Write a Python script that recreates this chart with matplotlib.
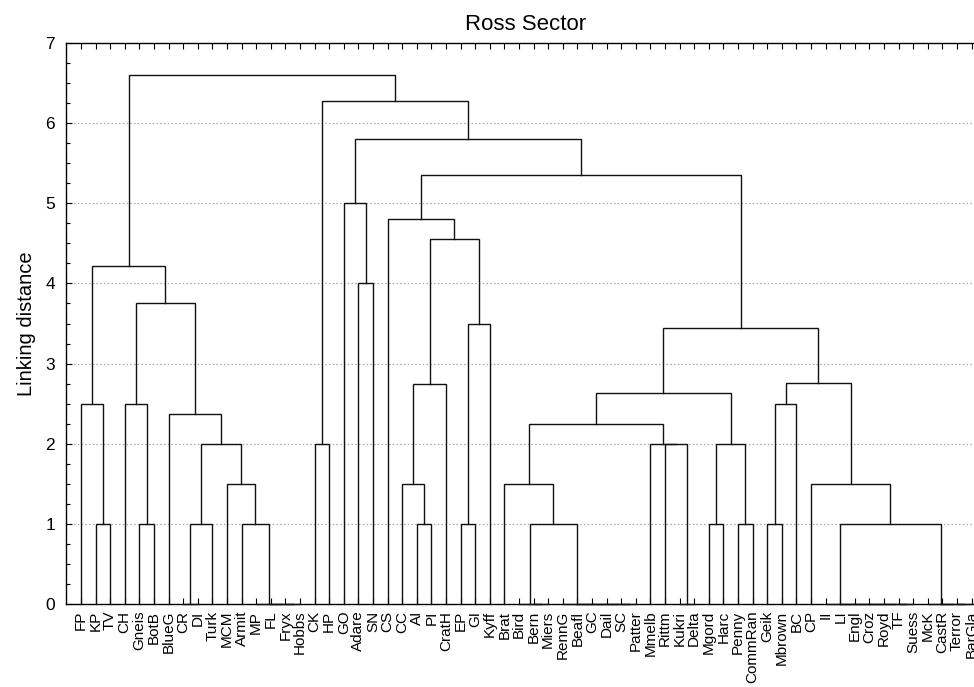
import matplotlib
matplotlib.use("Agg")
import matplotlib.pyplot as plt
from matplotlib.ticker import MultipleLocator, FixedLocator

plt.rcParams['font.family'] = ['Liberation Sans', 'DejaVu Sans']

labels = ["FP", "KP", "TV", "CH", "Gneis", "BotB", "BlueG", "CR", "DI", "Turk",
          "MCM", "Armit", "MP", "FL", "Fryx", "Hobbs", "CK", "HP", "GO", "Adare",
          "SN", "CS", "CC", "AI", "PI", "CratH", "EP", "GI", "Kyff", "Brat",
          "Bird", "Bern", "Miers", "RennG", "Beafl", "GC", "Dail", "SC", "Patter", "Mmelb",
          "Rittm", "Kukri", "Delta", "Mgord", "Harc", "Penny", "CommRan", "Geik", "Mbrown", "BC",
          "CP", "II", "LI", "Engl", "Croz", "Royd", "TF", "Suess", "McK", "CastR",
          "Terror", "BarGla"]

# merges: (left child, right child, linking distance); children are leaf names or "m<k>"
merges = [
    ("KP", "TV", 1.0),        # m1
    ("FP", "m1", 2.5),        # m2
    ("Gneis", "BotB", 1.0),   # m3
    ("CH", "m3", 2.5),        # m4
    ("CR", "DI", 0.0),        # m5
    ("m5", "Turk", 1.0),      # m6
    ("Fryx", "Hobbs", 0.0),   # m7
    ("FL", "m7", 0.0),        # m8
    ("MP", "m8", 0.0),        # m9
    ("Armit", "m9", 1.0),     # m10
    ("MCM", "m10", 1.5),      # m11
    ("m6", "m11", 2.0),       # m12
    ("BlueG", "m12", 2.37),   # m13
    ("m4", "m13", 3.75),      # m14
    ("m2", "m14", 4.22),      # m15
    ("CK", "HP", 2.0),        # m16
    ("Adare", "SN", 4.0),     # m17
    ("GO", "m17", 5.0),       # m18
    ("AI", "PI", 1.0),        # m19
    ("CC", "m19", 1.5),       # m20
    ("m20", "CratH", 2.75),   # m21
    ("EP", "GI", 1.0),        # m22
    ("m22", "Kyff", 3.5),     # m23
    ("m21", "m23", 4.56),     # m24
    ("CS", "m24", 4.81),      # m25
    ("Bern", "Miers", 0.0),   # m26
    ("Bird", "m26", 0.0),     # m27
    ("SC", "Patter", 0.0),    # m28
    ("Dail", "m28", 0.0),     # m29
    ("GC", "m29", 0.0),       # m30
    ("Beafl", "m30", 0.0),    # m31
    ("RennG", "m31", 0.0),    # m32
    ("m27", "m32", 1.0),      # m33
    ("Brat", "m33", 1.5),     # m34
    ("Kukri", "Delta", 0.0),  # m35
    ("Rittm", "m35", 2.0),    # m36
    ("Mmelb", "m36", 2.0),    # m37
    ("m34", "m37", 2.25),     # m38
    ("Mgord", "Harc", 1.0),   # m39
    ("Penny", "CommRan", 1.0),  # m40
    ("m39", "m40", 2.0),      # m41
    ("m38", "m41", 2.63),     # m42
    ("Geik", "Mbrown", 1.0),  # m43
    ("m43", "BC", 2.5),       # m44
    ("TF", "Suess", 0.0),     # m45
    ("Royd", "m45", 0.0),     # m46
    ("Croz", "m46", 0.0),     # m47
    ("Engl", "m47", 0.0),     # m48
    ("LI", "m48", 0.0),       # m49
    ("II", "m49", 0.0),       # m50
    ("Terror", "BarGla", 0.0),  # m51
    ("CastR", "m51", 0.0),    # m52
    ("McK", "m52", 0.0),      # m53
    ("m50", "m53", 1.0),      # m54
    ("CP", "m54", 1.5),       # m55
    ("m44", "m55", 2.76),     # m56
    ("m42", "m56", 3.44),     # m57
    ("m25", "m57", 5.35),     # m58
    ("m18", "m58", 5.8),      # m59
    ("m16", "m59", 6.28),     # m60
    ("m15", "m60", 6.6),      # m61
]

title = "Ross Sector"
ylabel = "Linking distance"
yticks = [0, 1, 2, 3, 4, 5, 6, 7]

fig = plt.figure(figsize=(9.74, 6.87), dpi=100)
ax = fig.add_axes([66.3 / 974, 1 - 603.7 / 687, 920.0 / 974, (603.7 - 43.3) / 687])

pos = {name: (i + 1, 0.0) for i, name in enumerate(labels)}
for k, (a, b, h) in enumerate(merges, start=1):
    xa, ha = pos[a]
    xb, hb = pos[b]
    ax.plot([xa, xa, xb, xb], [ha, h, h, hb], color='#111111', lw=1.0,
            solid_joinstyle='miter', clip_on=False, zorder=3)
    pos["m%d" % k] = ((xa + xb) / 2.0, h)

ax.set_xlim(0, len(labels) + 1)
ax.set_ylim(0, 7)

for yv in yticks[1:-1]:
    ax.axhline(yv, color='#a8a8a8', lw=0.9, ls=(0, (1.2, 1.8)), zorder=1)

ax.xaxis.set_major_locator(FixedLocator(range(1, len(labels) + 1)))
ax.set_xticklabels(labels, rotation=90, fontsize=11)
ax.set_yticks(yticks)
ax.set_yticklabels([str(v) for v in yticks], fontsize=12.5)
ax.yaxis.set_minor_locator(MultipleLocator(0.25))
ax.tick_params(axis='x', direction='in', length=4, width=0.8, top=True, bottom=True, pad=5)
ax.tick_params(axis='y', which='major', direction='in', length=4, width=0.8, pad=8)
ax.tick_params(axis='y', which='minor', direction='in', length=3, width=0.8)
for s in ax.spines.values():
    s.set_linewidth(1.0)

ax.set_ylabel(ylabel, fontsize=14.5, labelpad=7)
fig.text(526 / 974, 1 - 25 / 687, title, ha='center', va='center', fontsize=16)

fig.savefig("out.png", dpi=100)
